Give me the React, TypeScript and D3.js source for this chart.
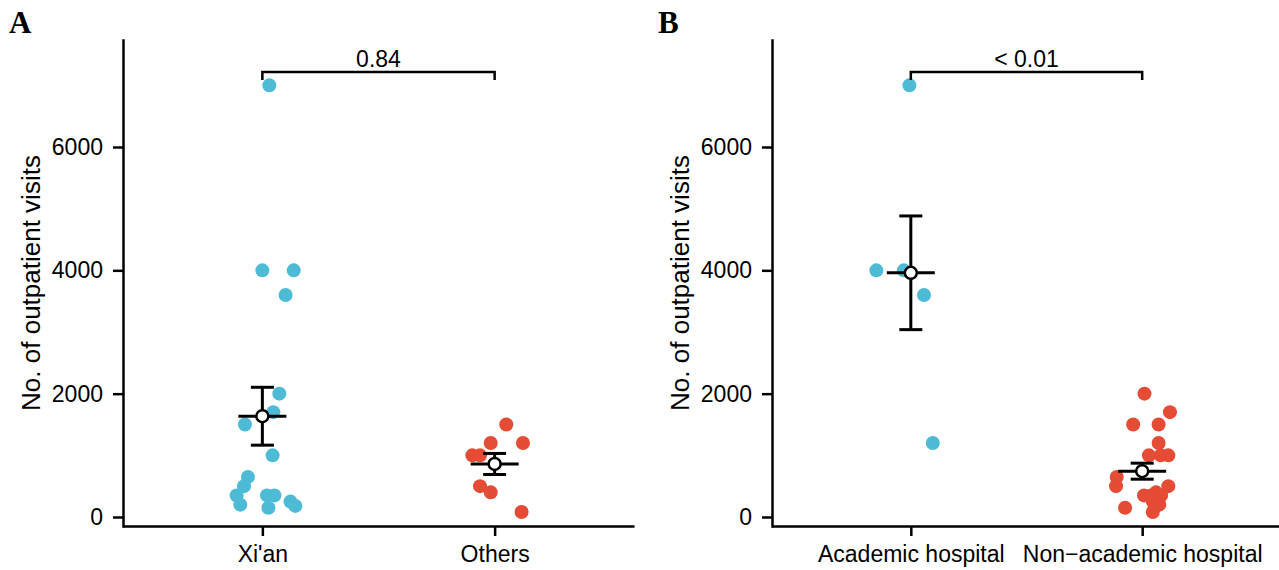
import React, { useRef, useEffect } from 'react';
import * as d3 from 'd3';

const yTicks = [0, 2000, 4000, 6000];
const blue = '#4DBBD5';
const red = '#E64B35';

// panel A: location
const locationGroups = ["Xi'an", 'Others'];
const xianVisits = [7000, 4000, 4000, 3600, 2000, 1700, 1500, 1000, 650, 500, 350, 200, 350, 350, 150, 250, 180];
const xianJitter = [0.03, 0.0, 0.135, 0.1, 0.073, 0.047, -0.075, 0.044, -0.062, -0.079, -0.111, -0.095, 0.02, 0.052, 0.026, 0.121, 0.142];
const othersVisits = [1500, 1200, 1200, 1000, 1000, 500, 400, 80];
const othersJitter = [0.05, -0.017, 0.122, -0.096, -0.063, -0.063, -0.017, 0.116];

// panel B: hospital type
const hospitalGroups = ['Academic hospital', 'Non\u2212academic hospital'];
const academicVisits = [7000, 4000, 4000, 3600, 1200];
const academicJitter = [-0.006, -0.149, -0.03, 0.057, 0.095];
const nonAcademicVisits = [2000, 1700, 1500, 1500, 1200, 1000, 1000, 1000, 650, 500, 500, 400, 350, 350, 350, 250, 200, 180, 150, 80];
const nonAcademicJitter = [0.01, 0.12, -0.039, 0.071, 0.071, 0.029, 0.113, 0.08, -0.11, -0.113, 0.113, 0.06, 0.008, 0.039, 0.082, 0.046, 0.074, 0.06, -0.074, 0.046];

const pValues = ['0.84', '< 0.01'];

const width = 1279;
const height = 570;
const top = 40;
const bottom = 526;
const font = 'Liberation Sans, Arial, Helvetica, sans-serif';

function App() {
  const canvas = useRef<SVGSVGElement>(null);

  useEffect(() => {
    const svg = d3.select(canvas.current);
    svg.selectAll('*').remove();

    const yScale = d3.scaleLinear().domain([-146, 7735]).range([bottom, top]);

    const drawPanel = (letter, left, right, categories, groups, pLabel) => {
      const xScale = d3.scaleLinear().domain([0.4, 2.6]).range([left, right]);
      const g = svg.append('g');

      // panel letter
      g.append('text')
        .attr('x', left - 114)
        .attr('y', 33)
        .attr('font-family', 'Liberation Serif, Times New Roman, serif')
        .attr('font-weight', 'bold')
        .attr('font-size', 31)
        .text(letter);

      // y axis
      const yAxis = g.append('g')
        .attr('transform', `translate(${left},0)`)
        .call(d3.axisLeft(yScale).tickValues(yTicks).tickFormat(d3.format('d'))
          .tickSize(10).tickSizeOuter(0).tickPadding(10));
      // x axis
      const xAxis = g.append('g')
        .attr('transform', `translate(0,${bottom})`)
        .call(d3.axisBottom(xScale).tickValues([1, 2]).tickFormat((d, i) => categories[i])
          .tickSize(10).tickSizeOuter(0).tickPadding(10));
      [yAxis, xAxis].forEach(ax => {
        ax.selectAll('path, line').attr('stroke', '#000').attr('stroke-width', 2.5);
        ax.selectAll('text').attr('font-family', font).attr('font-size', 23).attr('fill', '#000');
      });
      yAxis.select('.domain').attr('stroke-linecap', 'square');

      g.append('text')
        .attr('transform', `translate(${left - 90},${(top + bottom) / 2}) rotate(-90)`)
        .attr('text-anchor', 'middle')
        .attr('dominant-baseline', 'middle')
        .attr('font-family', font)
        .attr('font-size', 26)
        .text('No. of outpatient visits');

      // points
      groups.forEach((grp, gi) => {
        g.append('g').selectAll('circle')
          .data(grp.values)
          .enter()
          .append('circle')
          .attr('cx', (d, i) => xScale(gi + 1 + grp.jitter[i]))
          .attr('cy', d => yScale(d))
          .attr('r', 7)
          .attr('fill', grp.color);
      });

      // mean +/- SE
      groups.forEach((grp, gi) => {
        const mean = d3.mean(grp.values);
        const se = d3.deviation(grp.values) / Math.sqrt(grp.values.length);
        const cx = xScale(gi + 1);
        const eb = g.append('g').attr('stroke', '#000').attr('stroke-width', 3);
        eb.append('line').attr('x1', cx).attr('x2', cx).attr('y1', yScale(mean - se)).attr('y2', yScale(mean + se));
        [mean - se, mean + se].forEach(v => {
          eb.append('line').attr('x1', cx - 11.5).attr('x2', cx + 11.5).attr('y1', yScale(v)).attr('y2', yScale(v));
        });
        eb.append('line').attr('x1', cx - 24).attr('x2', cx + 24).attr('y1', yScale(mean)).attr('y2', yScale(mean));
        eb.append('circle').attr('cx', cx).attr('cy', yScale(mean)).attr('r', 6).attr('fill', '#fff').attr('stroke-width', 2.5);
      });

      // significance bracket
      const x1 = xScale(1);
      const x2 = xScale(2);
      g.append('path')
        .attr('d', `M${x1},80V72H${x2}V80`)
        .attr('fill', 'none')
        .attr('stroke', '#000')
        .attr('stroke-width', 2.5);
      g.append('text')
        .attr('x', (x1 + x2) / 2)
        .attr('y', 67)
        .attr('text-anchor', 'middle')
        .attr('font-family', font)
        .attr('font-size', 23)
        .text(pLabel);
    };

    drawPanel('A', 123, 634, locationGroups, [
      { values: xianVisits, jitter: xianJitter, color: blue },
      { values: othersVisits, jitter: othersJitter, color: red },
    ], pValues[0]);

    drawPanel('B', 772, 1281, hospitalGroups, [
      { values: academicVisits, jitter: academicJitter, color: blue },
      { values: nonAcademicVisits, jitter: nonAcademicJitter, color: red },
    ], pValues[1]);
  });

  return (
    <svg ref={canvas} width={width} height={height}
      style={{ position: 'absolute', left: 0, top: 0, background: '#fff' }} />
  );
}

export default App;
